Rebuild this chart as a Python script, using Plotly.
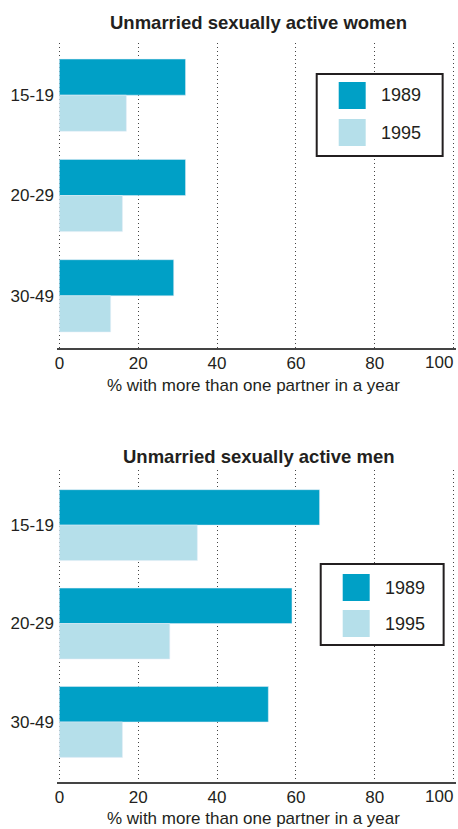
import plotly.graph_objects as go

# data
age_groups = ["15-19", "20-29", "30-49"]
women_1989 = [32, 32, 29]
women_1995 = [17, 16, 13]
men_1989 = [66, 59, 53]
men_1995 = [35, 28, 16]
x_ticks = [0, 20, 40, 60, 80, 100]
x_tick_text = ["0", "20", "40", "60", "80", ""]   # "100" is added right-aligned below

DARK = "#00a0c6"
LIGHT = "#b5dfea"
INK = "#231f20"
FONT = "Liberation Sans, Arial, sans-serif"

W, H = 458, 829
X_LO, X_HI = -0.6, 100.6   # small pad so the 0 and 100 gridlines get drawn
PX0, PX100 = 59.5, 454     # window x of 0 and 100
unit = (PX100 - PX0) / 100
plot_l = PX0 + X_LO * unit
plot_r = PX0 + X_HI * unit
ML = plot_l
MR = W - plot_r


def px(x):
    # window pixel x -> paper coordinate
    return (x - plot_l) / (plot_r - plot_l)


def py(y):
    # window pixel y -> paper coordinate
    return 1 - y / H


fig = go.Figure()
fig.add_trace(go.Bar(y=age_groups, x=women_1989, orientation="h", marker_color=DARK,
                     name="1989", xaxis="x", yaxis="y", showlegend=False))
fig.add_trace(go.Bar(y=age_groups, x=women_1995, orientation="h", marker_color=LIGHT,
                     name="1995", xaxis="x", yaxis="y", showlegend=False))
fig.add_trace(go.Bar(y=age_groups, x=men_1989, orientation="h", marker_color=DARK,
                     name="1989", xaxis="x2", yaxis="y2", showlegend=False))
fig.add_trace(go.Bar(y=age_groups, x=men_1995, orientation="h", marker_color=LIGHT,
                     name="1995", xaxis="x2", yaxis="y2", showlegend=False))

xaxis_style = dict(
    range=[X_LO, X_HI], tickvals=x_ticks, ticktext=x_tick_text, showgrid=True,
    gridcolor="#444", griddash="1px,3px", gridwidth=1.3, zeroline=False,
    showline=True, linecolor="#444", linewidth=2,
    ticks="", tickfont=dict(size=17, color=INK, family=FONT), ticklabelstandoff=-1,
    automargin=False, fixedrange=True,
)
yaxis_style = dict(
    type="category", showgrid=False, zeroline=False, showline=False, ticks="",
    tickfont=dict(size=17, color=INK, family=FONT), ticklabelstandoff=2,
    automargin=False, fixedrange=True,
)

fig.update_layout(
    width=W, height=H, margin=dict(l=ML, r=MR, t=0, b=0),
    paper_bgcolor="white", plot_bgcolor="white",
    barmode="group", bargap=0.28, bargroupgap=0,
    xaxis=dict(xaxis_style, domain=[0, 1], anchor="y"),
    yaxis=dict(yaxis_style, domain=[py(348), py(43)], range=[2.52, -0.52], anchor="x"),
    xaxis2=dict(xaxis_style, domain=[0, 1], anchor="y2"),
    yaxis2=dict(yaxis_style, domain=[py(782), py(470)], range=[2.61, -0.56], anchor="x2"),
)

# the last tick label sits flush with the right edge in the original
for xref, yc in [("x", 362), ("x2", 796)]:
    fig.add_annotation(text=str(x_ticks[-1]), x=x_ticks[-1], xref=xref, y=py(yc), yref="paper",
                       showarrow=False, xanchor="right", yanchor="middle", xshift=1,
                       font=dict(size=17, color=INK, family=FONT))

titles = [("Unmarried sexually active women", 22), ("Unmarried sexually active men", 457)]
for text, yc in titles:
    fig.add_annotation(text="<b>%s</b>" % text, x=px(259), y=py(yc), xref="paper", yref="paper",
                       showarrow=False, xanchor="center", yanchor="middle",
                       font=dict(size=18.5, color=INK, family=FONT))

# x-axis titles under each panel
for yc in [385, 818]:
    fig.add_annotation(text="% with more than one partner in a year", x=px(254), y=py(yc),
                       xref="paper", yref="paper", showarrow=False, xanchor="center",
                       yanchor="middle", font=dict(size=17, color=INK, family=FONT))

# hand-drawn legends (box, swatches, labels) to get the big square keys
legends = [(317, 443, 74, 156, 339, [82, 119]), (321, 444, 564, 645, 343, [574, 610])]
for x0, x1, y0, y1, sx, sys_ in legends:
    fig.add_shape(type="rect", xref="paper", yref="paper", x0=px(x0), x1=px(x1), y0=py(y1), y1=py(y0),
                  line=dict(color=INK, width=2), fillcolor="white", layer="above")
    for (label, color), sy in zip([("1989", DARK), ("1995", LIGHT)], sys_):
        fig.add_shape(type="rect", xref="paper", yref="paper", x0=px(sx), x1=px(sx + 27),
                      y0=py(sy + 27), y1=py(sy), line=dict(width=0), fillcolor=color, layer="above")
        fig.add_annotation(text=label, x=px(sx + 40), y=py(sy + 13.5), xref="paper", yref="paper",
                           showarrow=False, xanchor="left", yanchor="middle",
                           font=dict(size=18, color=INK, family=FONT))

# drop the default 8px body margin so the figure fills the window exactly
fig.write_html("out.html", config={"displayModeBar": False},
               post_script="document.body.style.margin='0';")
